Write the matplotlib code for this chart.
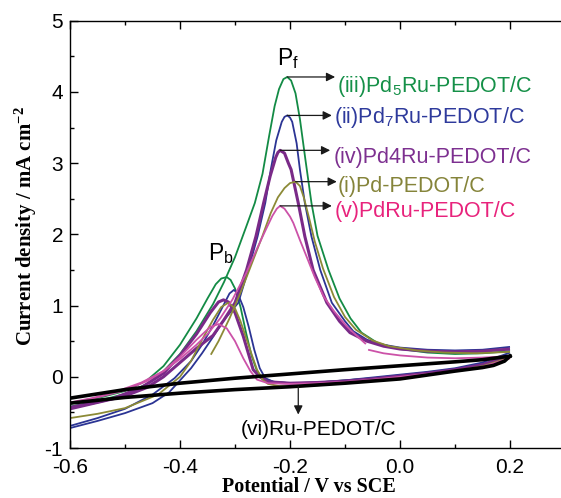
import numpy as np
import matplotlib

matplotlib.use("Agg")
import matplotlib.pyplot as plt

plt.rcParams["font.family"] = ["Liberation Sans", "DejaVu Sans"]
plt.rcParams["mathtext.default"] = "regular"
plt.rcParams["axes.unicode_minus"] = False

# ---- data (potential in V vs SCE, current in mA cm^-2) ----
# (iii) Pd5Ru-PEDOT/C
green_fwd_v = [-0.60, -0.55, -0.50, -0.46, -0.43, -0.40, -0.37, -0.34, -0.32, -0.30, -0.28, -0.264,
               -0.25, -0.238, -0.228, -0.22, -0.212, -0.205, -0.198, -0.19, -0.182, -0.172, -0.161,
               -0.15, -0.13, -0.11, -0.09, -0.07, -0.04, 0.00, 0.05, 0.10, 0.15, 0.20]
green_fwd_j = [-0.42, -0.34, -0.24, -0.10, 0.08, 0.32, 0.64, 1.02, 1.33, 1.68, 2.10, 2.44,
               2.85, 3.38, 3.80, 4.04, 4.18, 4.21, 4.16, 3.98, 3.62, 3.05, 2.44,
               1.98, 1.50, 1.10, 0.82, 0.62, 0.47, 0.39, 0.34, 0.32, 0.33, 0.36]
green_bwd_v = [0.20, 0.15, 0.10, 0.05, 0.00, -0.05, -0.10, -0.15, -0.20, -0.23, -0.25, -0.26,
               -0.27, -0.28, -0.29, -0.30, -0.308, -0.315, -0.325, -0.335, -0.35, -0.37, -0.40,
               -0.43, -0.46, -0.50, -0.55, -0.60]
green_bwd_j = [0.30, 0.18, 0.11, 0.06, 0.02, -0.02, -0.05, -0.08, -0.09, -0.07, -0.02, 0.08,
               0.30, 0.62, 0.98, 1.24, 1.36, 1.40, 1.38, 1.30, 1.10, 0.82, 0.45,
               0.15, -0.05, -0.20, -0.30, -0.38]

# (ii) Pd7Ru-PEDOT/C
blue_fwd_v = [-0.60, -0.55, -0.50, -0.45, -0.42, -0.40, -0.38, -0.36, -0.34, -0.32, -0.294, -0.276,
              -0.259, -0.245, -0.235, -0.225, -0.215, -0.21, -0.205, -0.20, -0.196, -0.188, -0.182,
              -0.173, -0.161, -0.145, -0.124, -0.10, -0.085, -0.06, -0.03, 0.00, 0.05, 0.10, 0.15, 0.20]
blue_fwd_j = [-0.72, -0.62, -0.51, -0.37, -0.22, -0.05, 0.12, 0.33, 0.56, 0.80, 1.04, 1.50,
              1.97, 2.44, 2.91, 3.32, 3.58, 3.65, 3.67, 3.64, 3.58, 3.28, 2.91,
              2.44, 1.97, 1.50, 1.04, 0.78, 0.64, 0.52, 0.45, 0.41, 0.38, 0.37, 0.38, 0.42]
blue_bwd_v = [0.20, 0.15, 0.10, 0.05, 0.00, -0.05, -0.10, -0.15, -0.20, -0.23, -0.245, -0.255,
              -0.265, -0.275, -0.285, -0.295, -0.302, -0.31, -0.32, -0.34, -0.36, -0.38, -0.41,
              -0.45, -0.50, -0.55, -0.60]
blue_bwd_j = [0.34, 0.20, 0.12, 0.07, 0.03, -0.01, -0.05, -0.08, -0.09, -0.07, -0.02, 0.12,
              0.38, 0.70, 0.98, 1.17, 1.22, 1.17, 1.02, 0.72, 0.45, 0.22, -0.02,
              -0.25, -0.45, -0.58, -0.69]

# (iv) Pd4Ru-PEDOT/C
purple_fwd_v = [-0.60, -0.55, -0.50, -0.46, -0.43, -0.40, -0.37, -0.34, -0.32, -0.30, -0.279, -0.262,
                -0.248, -0.236, -0.226, -0.222, -0.218, -0.21, -0.203, -0.198, -0.185, -0.173, -0.158,
                -0.133, -0.11, -0.091, -0.06, -0.03, 0.00, 0.05, 0.10, 0.15, 0.20]
purple_fwd_j = [-0.45, -0.36, -0.27, -0.15, 0.00, 0.20, 0.40, 0.58, 0.80, 1.04, 1.50, 1.97,
                2.44, 2.82, 3.08, 3.15, 3.18, 3.14, 3.00, 2.91, 2.44, 1.97, 1.50,
                1.04, 0.78, 0.62, 0.50, 0.43, 0.39, 0.36, 0.35, 0.36, 0.39]
purple_bwd_v = [0.20, 0.15, 0.10, 0.05, 0.00, -0.05, -0.10, -0.15, -0.20, -0.24, -0.255, -0.267,
                -0.285, -0.30, -0.312, -0.321, -0.33, -0.345, -0.37, -0.40, -0.43, -0.47, -0.52,
                -0.56, -0.60]
purple_bwd_j = [0.29, 0.17, 0.10, 0.05, 0.01, -0.03, -0.06, -0.08, -0.09, -0.07, 0.00, 0.10,
                0.57, 0.90, 1.05, 1.08, 1.05, 0.90, 0.60, 0.30, 0.05, -0.15, -0.30,
                -0.37, -0.43]

# (i) Pd-PEDOT/C
olive_fwd_v = [-0.344, -0.33, -0.31, -0.29, -0.27, -0.25, -0.235, -0.222, -0.21, -0.20, -0.19, -0.182,
               -0.175, -0.165, -0.155, -0.14, -0.12, -0.10, -0.08, -0.05, -0.02, 0.03, 0.08, 0.14, 0.20]
olive_fwd_j = [0.31, 0.50, 0.82, 1.18, 1.58, 1.98, 2.30, 2.52, 2.65, 2.72, 2.74, 2.68,
               2.52, 2.22, 1.90, 1.52, 1.12, 0.84, 0.66, 0.51, 0.43, 0.37, 0.34, 0.33, 0.35]
olive_bwd_v = [0.20, 0.15, 0.10, 0.05, 0.00, -0.05, -0.10, -0.15, -0.19, -0.22, -0.24, -0.25,
               -0.26, -0.27, -0.28, -0.29, -0.30, -0.312, -0.325, -0.34, -0.36, -0.38, -0.40,
               -0.44, -0.50, -0.55, -0.60]
olive_bwd_j = [0.27, 0.15, 0.08, 0.03, -0.01, -0.05, -0.09, -0.12, -0.14, -0.13, -0.10, -0.04,
               0.10, 0.32, 0.55, 0.78, 0.96, 1.04, 0.98, 0.80, 0.52, 0.22, 0.00,
               -0.25, -0.44, -0.52, -0.58]

# (v) PdRu-PEDOT/C (forward trace has a break near -0.06 V)
pink_fwd_v = [-0.60, -0.55, -0.50, -0.46, -0.43, -0.40, -0.37, -0.35, -0.327, -0.305, -0.28, -0.26,
              -0.245, -0.232, -0.224, -0.218, -0.21, -0.20, -0.194, -0.182, -0.17, -0.155, -0.139,
              -0.12, -0.097, -0.075, -0.062, np.nan, -0.058, -0.03, 0.00, 0.05, 0.10, 0.15, 0.20]
pink_fwd_j = [-0.37, -0.29, -0.19, -0.06, 0.08, 0.25, 0.45, 0.60, 0.82, 1.08, 1.45, 1.80,
              2.05, 2.26, 2.36, 2.40, 2.36, 2.25, 2.16, 1.92, 1.69, 1.40, 1.13,
              0.92, 0.71, 0.55, 0.46, np.nan, 0.38, 0.33, 0.30, 0.27, 0.26, 0.27, 0.29]
pink_bwd_v = [0.20, 0.15, 0.10, 0.05, 0.00, -0.05, -0.10, -0.15, -0.20, -0.24, -0.26, -0.272,
              -0.285, -0.30, -0.315, -0.33, -0.345, -0.37, -0.40, -0.43, -0.47, -0.52, -0.56, -0.60]
pink_bwd_j = [0.26, 0.14, 0.08, 0.04, 0.00, -0.04, -0.07, -0.09, -0.10, -0.09, -0.04, 0.08,
              0.26, 0.50, 0.68, 0.74, 0.70, 0.52, 0.28, 0.08, -0.08, -0.22, -0.30, -0.36]

# (vi) Ru-PEDOT/C
black_fwd_v = [-0.60, -0.50, -0.40, -0.30, -0.20, -0.10, 0.00, 0.10, 0.15, 0.20]
black_fwd_j = [-0.30, -0.18, -0.09, -0.02, 0.04, 0.10, 0.155, 0.21, 0.24, 0.29]
black_bwd_v = [0.20, 0.19, 0.17, 0.15, 0.10, 0.00, -0.10, -0.20, -0.30, -0.40, -0.50, -0.60]
black_bwd_j = [0.29, 0.22, 0.16, 0.13, 0.08, -0.03, -0.09, -0.14, -0.18, -0.23, -0.29, -0.37]

labels = ["(iii)Pd$_5$Ru-PEDOT/C", "(ii)Pd$_7$Ru-PEDOT/C", "(iv)Pd4Ru-PEDOT/C",
          "(i)Pd-PEDOT/C", "(v)PdRu-PEDOT/C", "(vi)Ru-PEDOT/C"]

x_ticks = [-0.6, -0.4, -0.2, 0.0, 0.2]
y_ticks = [-1, 0, 1, 2, 3, 4, 5]

# ---- styles ----
series = [
    (green_fwd_v, green_fwd_j, green_bwd_v, green_bwd_j, "#138b45", "#159048", 1.3),
    (blue_fwd_v, blue_fwd_j, blue_bwd_v, blue_bwd_j, "#2b3494", "#2e3a9c", 1.3),
    (purple_fwd_v, purple_fwd_j, purple_bwd_v, purple_bwd_j, "#7a2a88", "#7d3090", 2.2),
    (olive_fwd_v, olive_fwd_j, olive_bwd_v, olive_bwd_j, "#8c8a36", "#85843a", 1.3),
    (pink_fwd_v, pink_fwd_j, pink_bwd_v, pink_bwd_j, "#cc52a8", "#e8237c", 1.3),
]
# label anchor (x of arrow head, x of text, y baseline of text)
label_pos = [(-0.118, -0.1145, 4.00), (-0.124, -0.120, 3.57), (-0.127, -0.120, 3.00),
             (-0.115, -0.1127, 2.60), (-0.124, -0.118, 2.25)]

fig = plt.figure(figsize=(5.61, 4.98), dpi=100)
ax = fig.add_axes([0.1248, 0.1004, 0.9 * 550 / 561, 0.858])

for fv, fj, bv, bj, lc, tc, lw in series:
    ax.plot(bv, bj, color=lc, lw=lw, solid_capstyle="butt")
    ax.plot(fv, fj, color=lc, lw=lw, solid_capstyle="butt")

ax.plot(black_fwd_v, black_fwd_j, color="black", lw=2.6)
ax.plot(black_bwd_v, black_bwd_j, color="black", lw=2.6)

arrow_kw = dict(arrowstyle="-|>", color="#1a1a1a", lw=0.9, mutation_scale=13, shrinkA=0, shrinkB=0)
for (fv, fj, bv, bj, lc, tc, lw), lab, (xa, xt, yt) in zip(series, labels, label_pos):
    k = int(np.nanargmax(fj))
    ax.annotate("", xy=(xa, fj[k]), xytext=(fv[k], fj[k]), arrowprops=arrow_kw)
    ax.text(xt, yt, lab, color=tc, fontsize=15.5, ha="left", va="baseline")

ax.annotate("", xy=(-0.185, -0.53), xytext=(-0.185, -0.14), arrowprops=arrow_kw)
ax.text(-0.149, -0.745, labels[5], color="black", fontsize=15, ha="center", va="center")

ax.text(-0.2236, 4.38, "P$_f$", fontsize=16.5, ha="left", va="baseline")
ax.text(-0.349, 1.64, "P$_b$", fontsize=16.5, ha="left", va="baseline")

ax.set_xlim(-0.6, 0.3)
ax.set_ylim(-1, 5)
ax.set_xticks(x_ticks)
ax.set_xticklabels([f"{t:.1f}" for t in x_ticks])
ax.set_yticks(y_ticks)
ax.set_xticks(np.arange(-0.6, 0.31, 0.1), minor=True)
ax.set_yticks(np.arange(-1, 5.01, 0.5), minor=True)
ax.tick_params(which="both", direction="in", top=True, right=False, labelsize=15)
ax.tick_params(which="major", length=6, width=1.0, pad=5)
ax.tick_params(axis="x", which="major", pad=7)
ax.tick_params(which="minor", length=3, width=1.0)
for s in ax.spines.values():
    s.set_linewidth(1.0)

serif = ["Liberation Serif", "DejaVu Serif"]
ax.set_xlabel("Potential / V vs SCE", family=serif, weight="bold", fontsize=14.5)
ax.set_ylabel("Current density / mA cm$^{-2}$", family=serif, weight="bold", fontsize=15)
ax.xaxis.set_label_coords(0.483, -0.068)
ax.yaxis.set_label_coords(-0.062, 0.52)

fig.savefig("out.png", dpi=100)
